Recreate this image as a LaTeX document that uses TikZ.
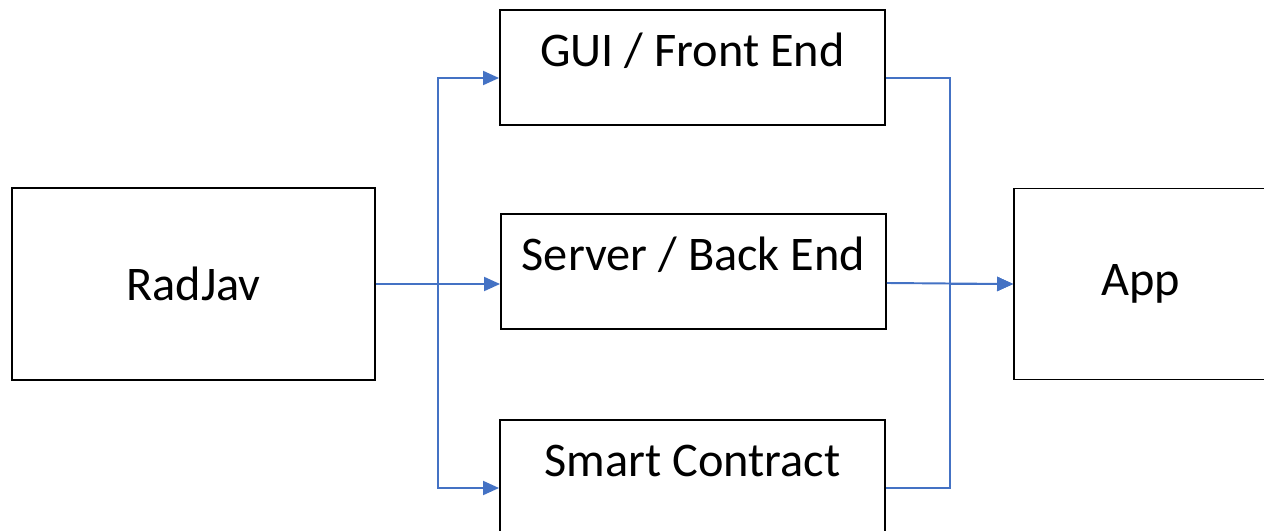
\documentclass[tikz,border=0pt]{standalone}
\usepackage{fontspec}
\setmainfont{Carlito}
\usetikzlibrary{arrows.meta}
\definecolor{link_blue}{RGB}{68, 114, 196}
\tikzstyle{bn}=[rectangle,draw=black,line width=1.1pt,minimum width=7.26cm,
  minimum height=3.84cm,font=\fontsize{27.5}{33}\selectfont]
\tikzstyle{sn}=[rectangle,draw=black,line width=1.1pt,minimum width=7.7cm,
  inner ysep=0pt,text height=1.13cm,text depth=1.17cm,font=\fontsize{27.5}{33}\selectfont]
\tikzstyle{ar}=[draw=link_blue,line width=1.1pt,-{Triangle[length=0.32cm,width=0.28cm]}]

\begin{document}
\begin{tikzpicture}
    \useasboundingbox (0,0) rectangle (25.28,-10.62);
    \clip (0,0) rectangle (25.28,-10.62);
    \node [style=bn] (radjav) at (3.87,-5.68) {RadJav};
    \node [style=sn] (gui) at (13.85,-1.35) {GUI / Front End};
    \node [style=sn] (server) at (13.87,-5.43) {Server / Back End};
    \node [style=sn] (smart) at (13.85,-9.55) {Smart Contract};
    \node [style=bn,minimum width=5.08cm,minimum height=3.82cm] (app) at (22.82,-5.68) {App};
    \draw [style=ar] (radjav.east) -- ++(1.24,0) |- ([yshift=-0.21cm]gui.west);
    \draw [style=ar] (radjav.east) -- (radjav.east -| server.west);
    \draw [style=ar] (radjav.east) -- ++(1.24,0) |- ([yshift=-0.21cm]smart.west);
    \draw [style=ar] ([yshift=-0.21cm]gui.east) -- ++(1.28,0) |- (app.west);
    \draw [style=ar] ([yshift=-0.23cm]server.east) -- (app.west);
    \draw [style=ar] ([yshift=-0.21cm]smart.east) -- ++(1.28,0) |- (app.west);
  \end{tikzpicture}
\end{document}
